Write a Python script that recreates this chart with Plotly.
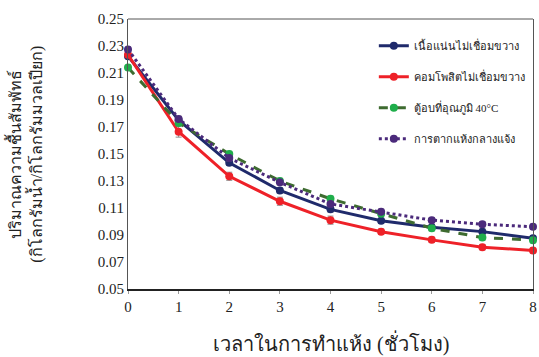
import plotly.graph_objects as go

hours = [0, 1, 2, 3, 4, 5, 6, 7, 8]
dense = [0.2225, 0.175, 0.1435, 0.123, 0.109, 0.1005, 0.0958, 0.0925, 0.0876]
composite = [0.2235, 0.1665, 0.1335, 0.115, 0.101, 0.0924, 0.0864, 0.081, 0.0785]
oven40 = [0.214, 0.173, 0.150, 0.130, 0.1168, 0.1057, 0.095, 0.0881, 0.0862]
outdoor = [0.2275, 0.176, 0.147, 0.129, 0.113, 0.1072, 0.101, 0.098, 0.0961]

dense_err = [0.002, 0.002, 0.002, 0.002, 0.002, 0.002, 0.002, 0.002, 0.002]
composite_err = [0.002, 0.004, 0.003, 0.003, 0.003, 0.002, 0.002, 0.002, 0.002]
oven_err = [0.002, 0.002, 0.002, 0.002, 0.002, 0.002, 0.002, 0.002, 0.002]
outdoor_err = [0.002, 0.002, 0.002, 0.002, 0.002, 0.002, 0.002, 0.002, 0.002]

names = ["เนื้อแน่นไม่เชื่อมขวาง", "คอมโพสิตไม่เชื่อมขวาง", "ตู้อบที่อุณภูมิ 40°C", "การตากแห้งกลางแจ้ง"]
y_ticks = [0.05, 0.07, 0.09, 0.11, 0.13, 0.15, 0.17, 0.19, 0.21, 0.23, 0.25]
x_title = "เวลาในการทำแห้ง (ชั่วโมง)"
y_title = "ปริมาณความชื้นสัมพัทธ์<br>(กิโลกรัมน้ำ/กิโลกรัมมวลเปียก)"

FONT = "Liberation Serif, Times New Roman, serif"

series = [
    (names[0], dense, dense_err, "#1f2a6b", "#1f2a6b", "solid"),
    (names[1], composite, composite_err, "#ee2128", "#ee2128", "solid"),
    (names[2], oven40, oven_err, "#3e6b30", "#1fae4b", "dash"),
    (names[3], outdoor, outdoor_err, "#4b2a7b", "#4b2a7b", "dot"),
]

fig = go.Figure()
for i, (nm, ys, er, lc, mc, dash) in enumerate(series):
    fig.add_trace(go.Scatter(
        x=hours, y=ys, name=nm, mode="lines+markers",
        legendgroup=f"g{i}", cliponaxis=False,
        line=dict(color=lc, width=3, dash=dash),
        marker=dict(color=mc, size=8, symbol="circle"),
        error_y=dict(type="data", array=er, visible=True, color="#8c8c8c", thickness=1, width=3),
    ))

fig.update_layout(
    template="none",
    width=539, height=357,
    margin=dict(l=128, r=6, t=19, b=68),
    paper_bgcolor="white", plot_bgcolor="white",
    font=dict(family=FONT, color="#222222"),
    showlegend=True,
    legend=dict(
        x=0.607, y=0.955, xanchor="left", yanchor="top",
        font=dict(size=11, family=FONT, color="#222222"),
        bgcolor="rgba(255,255,255,0)", borderwidth=0,
        traceorder="grouped", tracegroupgap=12,
    ),
    xaxis=dict(
        automargin=False,
        range=[0, 8], tickmode="array", tickvals=hours,
        ticks="outside", ticklen=3, tickcolor="#999999",
        showline=True, linecolor="#222222", linewidth=1.5, mirror=False,
        showgrid=False, zeroline=False,
        tickfont=dict(size=15, family=FONT),
    ),
    yaxis=dict(
        automargin=False,
        range=[0.05, 0.25], tickmode="array", tickvals=y_ticks,
        tickformat=".2f",
        ticks="", showline=True, linecolor="#555555", linewidth=1, mirror=True,
        showgrid=False, zeroline=False,
        tickfont=dict(size=15, family=FONT),
    ),
    shapes=[
        dict(type="line", xref="paper", yref="paper", x0=0, x1=1, y0=1, y1=1,
             line=dict(color="#555555", width=1), layer="below"),
    ],
    annotations=[
        dict(text=x_title, xref="paper", yref="paper", x=0.5, y=-0.2, yanchor="middle",
             xanchor="center", showarrow=False, font=dict(size=20, family=FONT, color="#222222")),
        dict(text=y_title, xref="paper", yref="paper", x=-0.255, y=0.5, xanchor="center",
             yanchor="middle", textangle=-90, showarrow=False,
             font=dict(size=16, family=FONT, color="#222222")),
    ],
)

fig.write_html("out.html", config={"displayModeBar": False},
               post_script="document.body.style.margin='0';document.body.style.padding='0';")
